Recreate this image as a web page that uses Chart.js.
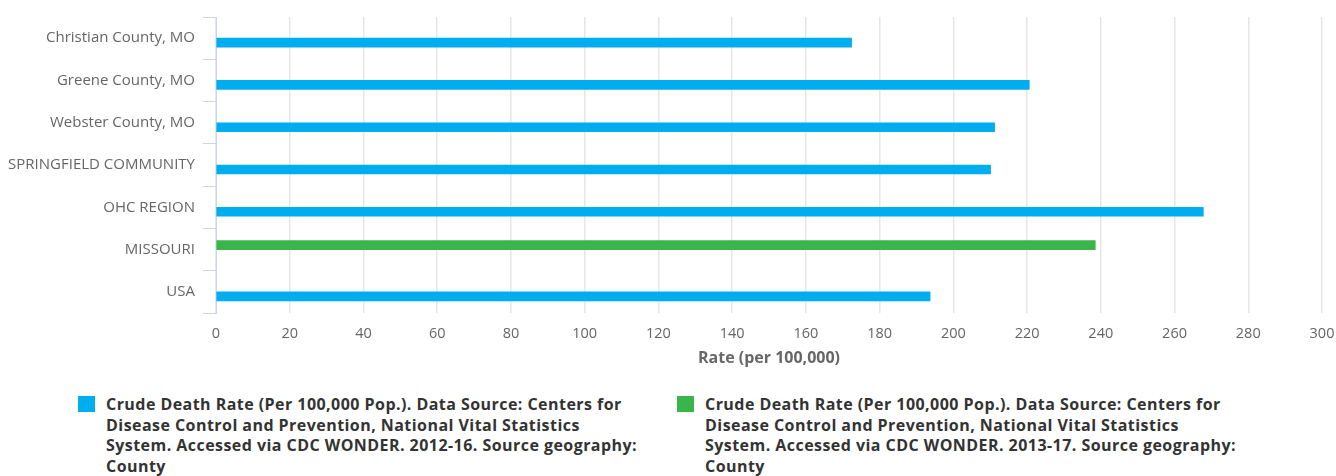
<!DOCTYPE html>
<html>
<head>
<meta charset="utf-8">
<script src="https://cdn.jsdelivr.net/npm/chart.js@4"></script>
<style>
    body { margin: 0; background: #ffffff; font-family: "Open Sans", sans-serif; }
    #wrap { position: relative; width: 1336px; height: 476px; }
    #chartBox { position: absolute; left: 0; top: 0; width: 1336px; height: 373px; }
    .legendItem { position: absolute; top: 395px; }
    .legendItem .swatch { position: absolute; left: 0; top: 1px; width: 17px; height: 16px; }
    .legendItem .txt {
        position: absolute; left: 28px; top: -1px; white-space: nowrap;
        font-size: 16px; font-weight: 700; line-height: 20.5px; color: #333333;
        letter-spacing: 0.45px;
    }
</style>
</head>
<body>
<div id="wrap">
    <div id="chartBox"><canvas id="deathRate"></canvas></div>
    <div class="legendItem" style="left:78px"><div class="swatch" style="background:#00adee"></div><div class="txt" id="leg1"></div></div>
    <div class="legendItem" style="left:677px"><div class="swatch" style="background:#39b54a"></div><div class="txt" id="leg2"></div></div>
</div>
<script>
    // categories and values
    var regions = ['Christian County, MO', 'Greene County, MO', 'Webster County, MO',
        'SPRINGFIELD COMMUNITY', 'OHC REGION', 'MISSOURI', 'USA'];
    var rate2012_16 = [172.4, 220.6, 211.2, 210.1, 267.8, null, 193.7];
    var rate2013_17 = [null, null, null, null, null, 238.5, null];
    var xTicks = [0, 20, 40, 60, 80, 100, 120, 140, 160, 180, 200, 220, 240, 260, 280, 300];

    var label1 = ['Crude Death Rate (Per 100,000 Pop.). Data Source: Centers for',
        'Disease Control and Prevention, National Vital Statistics',
        'System. Accessed via CDC WONDER. 2012-16. Source geography:',
        'County'];
    var label2 = ['Crude Death Rate (Per 100,000 Pop.). Data Source: Centers for',
        'Disease Control and Prevention, National Vital Statistics',
        'System. Accessed via CDC WONDER. 2013-17. Source geography:',
        'County'];

    document.getElementById('leg1').innerHTML = label1.join('<br>');
    document.getElementById('leg2').innerHTML = label2.join('<br>');

    new Chart(
        document.getElementById('deathRate'),
        {
            type: 'bar',
            data: {
                labels: regions,
                datasets: [
                    {
                        label: label2.join(' '),
                        backgroundColor: '#39b54a',
                        data: rate2013_17
                    },
                    {
                        label: label1.join(' '),
                        backgroundColor: '#00adee',
                        data: rate2012_16
                    }
                ]
            },
            options: {
                indexAxis: 'y',
                responsive: true,
                maintainAspectRatio: false,
                animation: false,
                datasets: {
                    bar: {
                        barThickness: 9,
                        categoryPercentage: 0.6
                    }
                },
                layout: {
                    padding: { top: 12, right: 14, bottom: 0, left: 0 }
                },
                plugins: {
                    legend: { display: false },
                    tooltip: { enabled: false }
                },
                scales: {
                    x: {
                        min: 0,
                        max: 300,
                        afterBuildTicks: function (scale) {
                            scale.ticks = xTicks.map(v => ({ value: v }));
                        },
                        afterFit: function (scale) {
                            scale.height = 60;
                            scale.paddingRight = 0;
                            scale.paddingLeft = 0;
                        },
                        border: { display: false },
                        grid: {
                            color: '#e6e6e6',
                            lineWidth: 1.5,
                            drawTicks: false
                        },
                        ticks: {
                            padding: 12,
                            color: '#666666',
                            font: { family: 'Open Sans', size: 14.5 }
                        },
                        title: {
                            display: true,
                            text: 'Rate (per 100,000)',
                            color: '#666666',
                            padding: { top: 0, bottom: 5 },
                            font: { family: 'Open Sans', size: 16, weight: 'bold' }
                        }
                    },
                    y: {
                        afterFit: function (scale) {
                            scale.width = 216;
                        },
                        border: { color: '#ccd6eb', width: 1 },
                        grid: {
                            offset: true,
                            drawOnChartArea: false,
                            color: '#ccd6eb',
                            tickLength: 13
                        },
                        ticks: {
                            padding: 8,
                            color: '#666666',
                            font: { family: 'Open Sans', size: 15 }
                        }
                    }
                }
            }
        }
    );
</script>
</body>
</html>
